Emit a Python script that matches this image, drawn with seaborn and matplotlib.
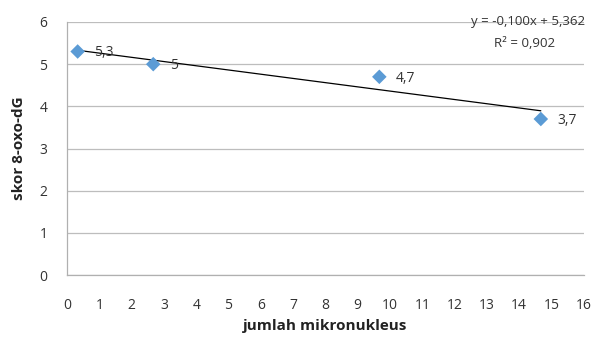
import matplotlib
matplotlib.use("Agg")
import matplotlib.pyplot as plt
import seaborn as sns
import numpy as np
import pandas as pd

x_vals = [0.33, 2.67, 9.67, 14.67]
y_vals = [5.3, 5.0, 4.7, 3.7]
point_labels = ["5,3", "5", "4,7", "3,7"]
slope = -0.100
intercept = 5.362
eq_text = "y = -0,100x + 5,362"
r2_text = "R² = 0,902"
x_ticks = list(range(0, 17))
y_ticks = list(range(0, 7))

sns.set_theme(style="white")
plt.rcParams['font.family'] = ['Open Sans', 'DejaVu Sans']

df = pd.DataFrame({"x": x_vals, "y": y_vals})

fig = plt.figure(figsize=(5.94, 3.38), dpi=100)
ax = fig.add_axes([0.1128, 0.186, 0.870, 0.749])

tx = np.array([min(x_vals), max(x_vals)])
ax.plot(tx, slope * tx + intercept, color="black", lw=0.9, zorder=2)
sns.scatterplot(data=df, x="x", y="y", marker="D", s=55, color="#5b9bd5",
                edgecolor="none", ax=ax, zorder=3)

for xv, yv, lab in zip(x_vals, y_vals, point_labels):
    ax.annotate(lab, (xv, yv), xytext=(12, -1), textcoords="offset points",
                va="center", ha="left", fontsize=10, color="#333333")

ax.set_xlim(0, 16)
ax.set_ylim(0, 6)
ax.set_xticks(x_ticks)
ax.set_yticks(y_ticks)
ax.yaxis.grid(True, color="#bdbdbd", lw=0.9)
ax.set_axisbelow(True)
for s in ["top", "right"]:
    ax.spines[s].set_visible(False)
for s in ["left", "bottom"]:
    ax.spines[s].set_color("#b0b0b0")
    ax.spines[s].set_linewidth(0.9)
ax.tick_params(axis="x", direction="in", length=4, color="#b0b0b0", width=0.9,
               pad=16.5, labelsize=10, labelcolor="#333333")
ax.tick_params(axis="y", length=0, pad=14, labelsize=10, labelcolor="#333333")

ax.set_xlabel("jumlah mikronukleus", fontsize=11, fontweight="bold", color="#222222", labelpad=4)
ax.set_ylabel("skor 8-oxo-dG", fontsize=11, fontweight="bold", color="#222222", labelpad=10)

fig.text(0.985, 0.935, eq_text, ha="right", va="center", fontsize=9.5, color="#333333")
fig.text(0.935, 0.872, r2_text, ha="right", va="center", fontsize=9.5, color="#333333")

fig.savefig("out.png", dpi=100)
